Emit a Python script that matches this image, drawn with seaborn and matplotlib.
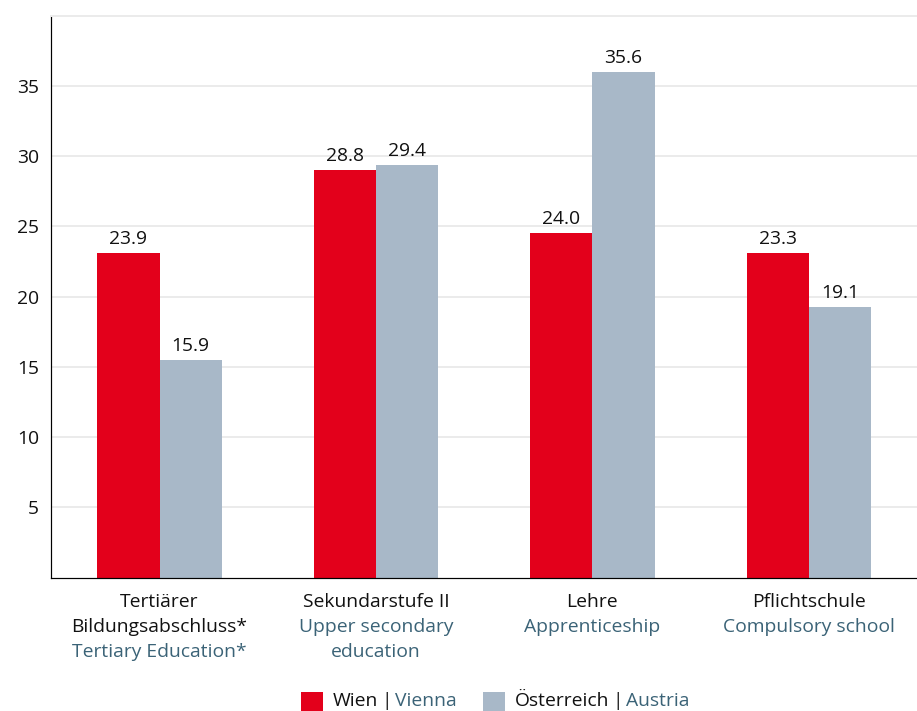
import numpy as np
import pandas as pd
import matplotlib
matplotlib.use("Agg")
import matplotlib.pyplot as plt
import seaborn as sns
from matplotlib.offsetbox import AnchoredOffsetbox, DrawingArea, HPacker, TextArea
from matplotlib.patches import Rectangle

# data
categories_de = ["Tertiärer\nBildungsabschluss*", "Sekundarstufe II", "Lehre", "Pflichtschule"]
categories_en = ["Tertiary Education*", "Upper secondary\neducation", "Apprenticeship", "Compulsory school"]
wien = [23.1, 29.0, 24.5, 23.1]
oesterreich = [15.5, 29.4, 36.0, 19.3]
wien_labels = ["23.9", "28.8", "24.0", "23.3"]
oesterreich_labels = ["15.9", "29.4", "35.6", "19.1"]
series_de = ["Wien", "Österreich"]
series_en = ["Vienna", "Austria"]
y_ticks = [5, 10, 15, 20, 25, 30, 35]

RED = "#E3001B"
GREY = "#A8B8C8"
TEAL = "#3B6377"
GRID = "#EBEBEB"
FS = 19.3

sns.set_style("white")
plt.rcParams["font.family"] = ["Open Sans", "DejaVu Sans"]

df = pd.DataFrame({
    "Kategorie": categories_de * 2,
    "Gruppe": [series_de[0]] * 4 + [series_de[1]] * 4,
    "Wert": wien + oesterreich,
})

fig = plt.figure(figsize=(917 / 72, 711 / 72), dpi=72)
ax = fig.add_axes([51.3 / 917, 1 - 577.7 / 711, 1 - 51.3 / 917, (577.7 - 15.7) / 711])

sns.barplot(data=df, x="Kategorie", y="Wert", hue="Gruppe", palette=[RED, GREY],
            width=0.575, saturation=1, legend=False, linewidth=0, ax=ax)

ax.bar_label(ax.containers[0], labels=wien_labels, padding=5, fontsize=FS, color="#111111")
ax.bar_label(ax.containers[1], labels=oesterreich_labels, padding=5, fontsize=FS, color="#111111")

ax.set_ylim(0, 40)
ax.set_xlim(-0.5, 3.5)
ax.set_yticks(y_ticks)
ax.set_yticklabels([str(t) for t in y_ticks], fontsize=FS, color="#111111")
ax.tick_params(axis="y", length=0, pad=12)
ax.tick_params(axis="x", length=0)
ax.set_xticklabels([])
ax.set_xlabel("")
ax.set_ylabel("")
ax.yaxis.grid(True, color=GRID, lw=2)
ax.set_axisbelow(True)

for s in ["left", "bottom"]:
    ax.spines[s].set_color("black")
    ax.spines[s].set_linewidth(1.2)
ax.spines["right"].set_visible(False)
ax.spines["top"].set_color(GRID)
ax.spines["top"].set_linewidth(2)

# two-colour category labels under the axis
for i, (de, en) in enumerate(zip(categories_de, categories_en)):
    lines = [(t, "#111111") for t in de.split("\n")] + [(t, TEAL) for t in en.split("\n")]
    for k, (txt, col) in enumerate(lines):
        ax.annotate(txt, xy=(i, 0), xycoords=("data", "axes fraction"),
                    xytext=(0, -29 - 25 * k), textcoords="offset points",
                    ha="center", va="baseline", fontsize=FS, color=col,
                    annotation_clip=False)

# legend: "Wien | Vienna"  "Österreich | Austria"
items = []
for col, de, en in zip([RED, GREY], series_de, series_en):
    da = DrawingArea(22, 19, 0, 0)
    da.add_artist(Rectangle((0, 0), 22, 19, fc=col, ec="none"))
    row = HPacker(children=[
        da,
        DrawingArea(4, 1, 0, 0),
        TextArea(de, textprops=dict(fontsize=FS, color="#111111")),
        TextArea("|", textprops=dict(fontsize=FS, color="#111111")),
        TextArea(en, textprops=dict(fontsize=FS, color=TEAL)),
    ], align="center", pad=0, sep=3)
    items.append(row)
box = HPacker(children=items, align="center", pad=0, sep=26)
anchored = AnchoredOffsetbox(loc="center", child=box, pad=0, frameon=False,
                             bbox_to_anchor=(495 / 917, 1 - 701 / 711),
                             bbox_transform=fig.transFigure, borderpad=0)
fig.add_artist(anchored)

fig.savefig("out.png", dpi=72)
